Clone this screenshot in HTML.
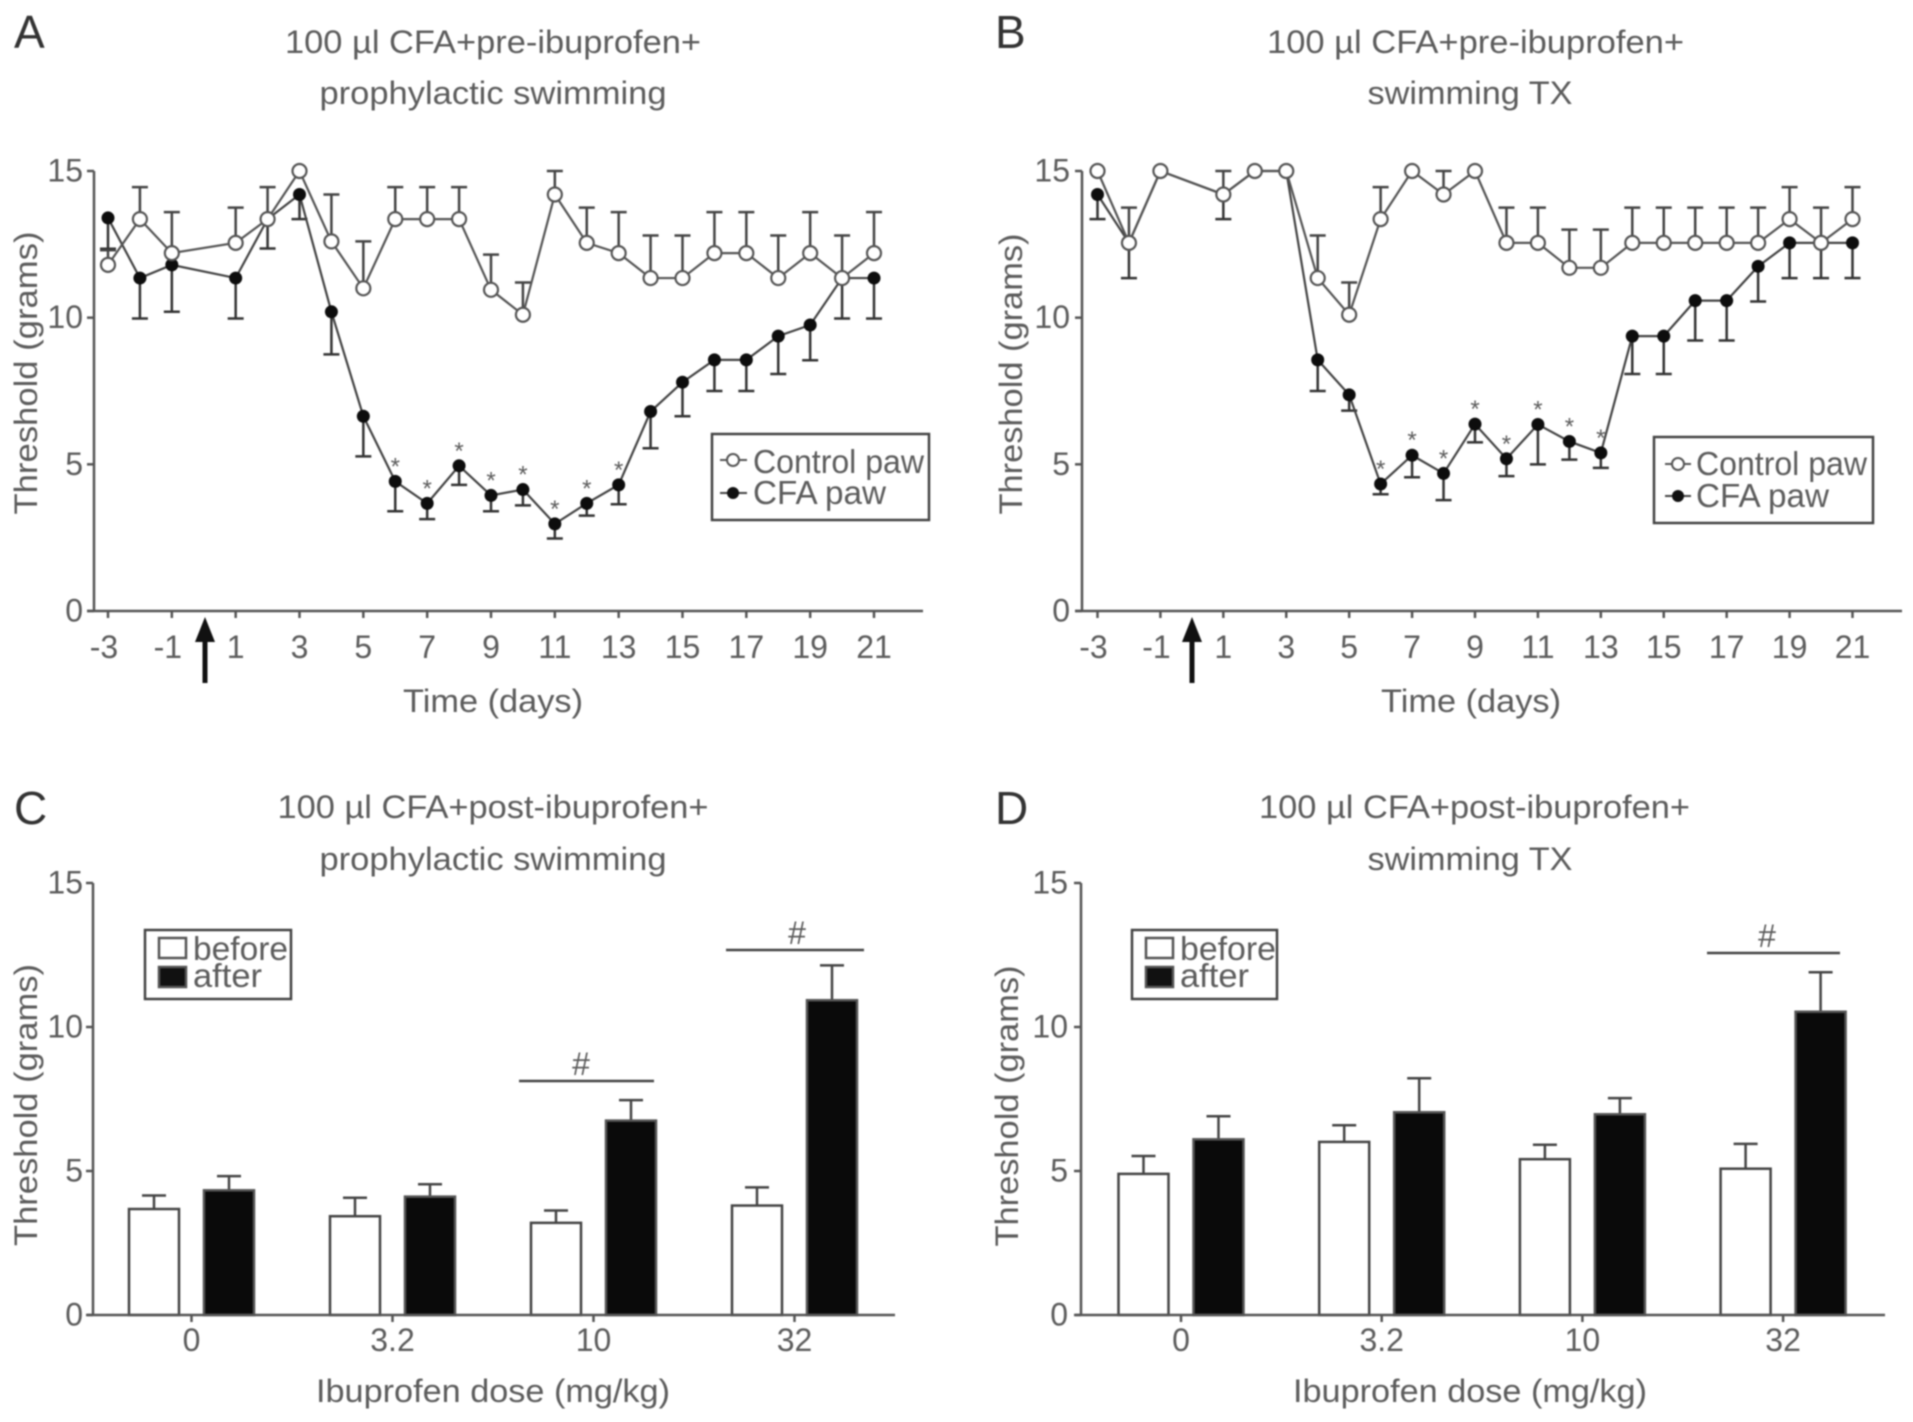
<!DOCTYPE html>
<html lang="en">
<head>
<meta charset="utf-8">
<title>Threshold charts</title>
<style>
html,body{margin:0;padding:0;background:#fff;}
#figure{display:block;width:1913px;height:1422px;filter:blur(0.8px);}
text{font-family:"Liberation Sans",sans-serif;fill:#5c5c5c;font-size:32px;}
.panel-letter{font-size:46px;fill:#333;}
.legend-text{font-size:33px;}
</style>
</head>
<body>
<svg id="figure" xmlns="http://www.w3.org/2000/svg" width="1913" height="1422" viewBox="0 0 1913 1422">
<rect width="1913" height="1422" fill="#fff"/>

<g id="panel-a">
  <text class="panel-letter" x="14" y="48">A</text>
  <text x="493" y="53" text-anchor="middle" textLength="416" lengthAdjust="spacingAndGlyphs">100 µl CFA+pre-ibuprofen+</text>
  <text x="493" y="104" text-anchor="middle" textLength="347" lengthAdjust="spacingAndGlyphs">prophylactic swimming</text>
  <text transform="translate(37,373) rotate(-90)" text-anchor="middle" textLength="283" lengthAdjust="spacingAndGlyphs">Threshold (grams)</text>
  <text x="493" y="712" text-anchor="middle" textLength="180" lengthAdjust="spacingAndGlyphs">Time (days)</text>
  <g id="plot-a"></g>
  <path d="M205 617 L215 642 L207.5 642 L207.5 683 L202.5 683 L202.5 642 L195 642 Z" fill="#111"/>
  <g>
    <rect x="712" y="434" width="217" height="86" fill="#fff" stroke="#444" stroke-width="2.5"/>
    <line x1="720" y1="460" x2="747" y2="460" stroke="#555" stroke-width="2"/>
    <circle cx="733" cy="460" r="6" fill="#fff" stroke="#555" stroke-width="2"/>
    <text class="legend-text" x="753" y="473" textLength="171" lengthAdjust="spacingAndGlyphs">Control paw</text>
    <line x1="720" y1="493" x2="747" y2="493" stroke="#444" stroke-width="2"/>
    <circle cx="733" cy="493" r="6" fill="#111"/>
    <text class="legend-text" x="753" y="504" textLength="133" lengthAdjust="spacingAndGlyphs">CFA paw</text>
  </g>
</g>

<g id="panel-b">
  <text class="panel-letter" x="995" y="48">B</text>
  <text x="1475.5" y="53" text-anchor="middle" textLength="417" lengthAdjust="spacingAndGlyphs">100 µl CFA+pre-ibuprofen+</text>
  <text x="1470" y="104" text-anchor="middle" textLength="205" lengthAdjust="spacingAndGlyphs">swimming TX</text>
  <text transform="translate(1022,374) rotate(-90)" text-anchor="middle" textLength="281" lengthAdjust="spacingAndGlyphs">Threshold (grams)</text>
  <text x="1471" y="712" text-anchor="middle" textLength="180" lengthAdjust="spacingAndGlyphs">Time (days)</text>
  <g id="plot-b"></g>
  <path d="M1192 617 L1202 642 L1194.5 642 L1194.5 683 L1189.5 683 L1189.5 642 L1182 642 Z" fill="#111"/>
  <g>
    <rect x="1659" y="437" width="219" height="86" fill="none" stroke="none"/>
    <rect x="1659" y="437" width="218" height="86" fill="#fff" stroke="none"/>
    <rect x="1654" y="437" width="219" height="86" fill="#fff" stroke="#444" stroke-width="2.5"/>
    <line x1="1665" y1="464" x2="1691" y2="464" stroke="#555" stroke-width="2"/>
    <circle cx="1678" cy="464" r="6" fill="#fff" stroke="#555" stroke-width="2"/>
    <text class="legend-text" x="1696" y="475" textLength="171" lengthAdjust="spacingAndGlyphs">Control paw</text>
    <line x1="1665" y1="496" x2="1691" y2="496" stroke="#444" stroke-width="2"/>
    <circle cx="1678" cy="496" r="6" fill="#111"/>
    <text class="legend-text" x="1696" y="507" textLength="133" lengthAdjust="spacingAndGlyphs">CFA paw</text>
  </g>
</g>

<g id="panel-c">
  <text class="panel-letter" x="14" y="824">C</text>
  <text x="493" y="818" text-anchor="middle" textLength="431" lengthAdjust="spacingAndGlyphs">100 µl CFA+post-ibuprofen+</text>
  <text x="493" y="870" text-anchor="middle" textLength="347" lengthAdjust="spacingAndGlyphs">prophylactic swimming</text>
  <text transform="translate(37,1105) rotate(-90)" text-anchor="middle" textLength="282" lengthAdjust="spacingAndGlyphs">Threshold (grams)</text>
  <text x="493" y="1402" text-anchor="middle" textLength="354" lengthAdjust="spacingAndGlyphs">Ibuprofen dose (mg/kg)</text>
  <g id="plot-c"></g>
  <g>
    <line x1="519" y1="1083" x2="654" y2="1083" stroke="#444" stroke-width="2.5" transform="translate(0,-2)"/>
    <text x="581" y="1075" text-anchor="middle" font-size="32">#</text>
  </g>
  <g>
    <line x1="726" y1="950" x2="864" y2="950" stroke="#444" stroke-width="2.5"/>
    <text x="797" y="944" text-anchor="middle">#</text>
  </g>
  <g>
    <rect x="145" y="930" width="146" height="69" fill="#fff" stroke="#444" stroke-width="2.5"/>
    <rect x="159" y="938" width="27" height="20" fill="#fff" stroke="#555" stroke-width="2.5"/>
    <text class="legend-text" x="193" y="960" textLength="95" lengthAdjust="spacingAndGlyphs">before</text>
    <rect x="159" y="967" width="27" height="20" fill="#111" stroke="#555" stroke-width="2.5"/>
    <text class="legend-text" x="193" y="987" textLength="69" lengthAdjust="spacingAndGlyphs">after</text>
  </g>
</g>

<g id="panel-d">
  <text class="panel-letter" x="995" y="824">D</text>
  <text x="1474.5" y="818" text-anchor="middle" textLength="431" lengthAdjust="spacingAndGlyphs">100 µl CFA+post-ibuprofen+</text>
  <text x="1470" y="870" text-anchor="middle" textLength="205" lengthAdjust="spacingAndGlyphs">swimming TX</text>
  <text transform="translate(1018,1106) rotate(-90)" text-anchor="middle" textLength="281" lengthAdjust="spacingAndGlyphs">Threshold (grams)</text>
  <text x="1470" y="1402" text-anchor="middle" textLength="354" lengthAdjust="spacingAndGlyphs">Ibuprofen dose (mg/kg)</text>
  <g id="plot-d"></g>
  <g>
    <line x1="1707" y1="953" x2="1840" y2="953" stroke="#444" stroke-width="2.5"/>
    <text x="1767" y="947" text-anchor="middle">#</text>
  </g>
  <g>
    <rect x="1134" y="930" width="145" height="69" fill="#fff" stroke="#444" stroke-width="2.5" transform="translate(-2,0)"/>
    <rect x="1146" y="938" width="27" height="20" fill="#fff" stroke="#555" stroke-width="2.5"/>
    <text class="legend-text" x="1180" y="960" textLength="96" lengthAdjust="spacingAndGlyphs">before</text>
    <rect x="1146" y="967" width="27" height="20" fill="#111" stroke="#555" stroke-width="2.5"/>
    <text class="legend-text" x="1180" y="987" textLength="69" lengthAdjust="spacingAndGlyphs">after</text>
  </g>
</g>
</svg>

<script>
// ---- shared categories and tick labels ----
const days = [-3,-2,-1,1,2,3,4,5,6,7,8,9,10,11,12,13,14,15,16,17,18,19,20,21];
const dayTickLabels = [-3,-1,1,3,5,7,9,11,13,15,17,19,21];
const starDays = [6,7,8,9,10,11,12,13];
const thresholdTicks = [0,5,10,15];
const doseLabels = ["0","3.2","10","32"];

// ---- panel A series ----
const aControl = [11.8,13.36,12.2,12.55,13.36,15,12.6,11,13.36,13.36,13.36,10.95,10.1,14.2,12.55,12.2,11.35,11.35,12.2,12.2,11.35,12.2,11.35,12.2];
const aControlErr = [0.5,1.09,1.4,1.2,1.09,0,1.6,1.6,1.09,1.09,1.09,1.2,1.1,0.8,1.2,1.4,1.45,1.45,1.4,1.4,1.45,1.4,1.45,1.4];
const aCfa = [13.4,11.35,11.8,11.35,13.36,14.2,10.2,6.64,4.42,3.67,4.95,3.94,4.14,2.97,3.67,4.3,6.8,7.8,8.56,8.56,9.37,9.75,11.35,11.35];
const aCfaErr = [1.05,1.38,1.6,1.38,1.0,0.84,1.45,1.37,1.02,0.54,0.65,0.54,0.54,0.5,0.42,0.66,1.25,1.16,1.06,1.06,1.29,1.2,1.38,1.38];

// ---- panel B series ----
const bControl = [15,12.55,15,14.2,15,15,11.35,10.1,13.36,15,14.2,15,12.55,12.55,11.7,11.7,12.55,12.55,12.55,12.55,12.55,13.36,12.55,13.36];
const bControlErr = [0,1.2,0,0.8,0,0,1.45,1.1,1.09,0,0.8,0,1.2,1.2,1.3,1.3,1.2,1.2,1.2,1.2,1.2,1.09,1.2,1.09];
const bCfa = [14.2,12.55,15,14.2,15,15,8.56,7.37,4.33,5.31,4.69,6.37,5.19,6.36,5.78,5.39,9.37,9.37,10.58,10.58,11.75,12.55,12.55,12.55];
const bCfaErr = [0.84,1.2,0,0.84,0,0,1.06,0.54,0.35,0.75,0.91,0.62,0.59,1.36,0.62,0.51,1.29,1.29,1.36,1.36,1.2,1.2,1.2,1.2];

// ---- panel C series ----
const cBefore = [3.68,3.43,3.2,3.8];
const cBeforeErr = [0.47,0.64,0.43,0.63];
const cAfter = [4.33,4.11,6.75,10.93];
const cAfterErr = [0.49,0.43,0.71,1.21];

// ---- panel D series ----
const dBefore = [4.9,6.01,5.41,5.08];
const dBeforeErr = [0.62,0.58,0.5,0.86];
const dAfter = [6.1,7.04,6.97,10.53];
const dAfterErr = [0.8,1.18,0.56,1.37];

const SVG_NS = "http://www.w3.org/2000/svg";
function mk(parent, tag, attrs, txt) {
  const el = document.createElementNS(SVG_NS, tag);
  for (const k in attrs) el.setAttribute(k, attrs[k]);
  if (txt !== undefined) el.textContent = txt;
  parent.appendChild(el);
  return el;
}
const AXIS = "#555";

function drawYAxis(g, yScale, yTop, yBase, axisX, labelX, key) {
  const spine = mk(g, "line", {x1:axisX, y1:yTop, x2:axisX, y2:yBase, stroke:AXIS, "stroke-width":2.5});
  
  
  thresholdTicks.forEach(function (t) {
    const tick = mk(g, "line", {x1:axisX-7, y1:yScale(t), x2:axisX, y2:yScale(t), stroke:AXIS, "stroke-width":2.5});
    
    
    const lab = mk(g, "text", {x:labelX, y:yScale(t)+10.5, "text-anchor":"end"}, String(t));
    
    
  });
}

function drawLinePanel(g, key, geo, control, controlErr, cfa, cfaErr) {
  const xScale = function (d) { return geo.x0 + (d - days[0]) / (days[days.length-1] - days[0]) * (geo.x1 - geo.x0); };
  const yScale = function (v) { return geo.yBase - v / 15 * (geo.yBase - geo.yTop); };

  drawYAxis(g, yScale, geo.yTop, geo.yBase, geo.axisX, geo.labelX, key);
  const xLine = mk(g, "line", {x1:geo.axisX-7, y1:geo.yBase, x2:geo.axisEnd, y2:geo.yBase, stroke:AXIS, "stroke-width":2.5});
  
  
  dayTickLabels.forEach(function (d) {
    const tick = mk(g, "line", {x1:xScale(d), y1:geo.yBase, x2:xScale(d), y2:geo.yBase+7, stroke:AXIS, "stroke-width":2.5});
    
    
    const lab = mk(g, "text", {x:xScale(d) - (d < 0 ? 4 : 0), y:658, "text-anchor":"middle"}, String(d));
    
    
  });

  function errBars(vals, errs, dir, colour, nm) {
    vals.forEach(function (v, i) {
      if (!errs[i]) return;
      const xx = xScale(days[i]);
      const yy = yScale(v + dir * errs[i]);
      const stem = mk(g, "line", {x1:xx, y1:yScale(v), x2:xx, y2:yy, stroke:colour, "stroke-width":2.5});
      
      
      const cap = mk(g, "line", {x1:xx-8, y1:yy, x2:xx+8, y2:yy, stroke:colour, "stroke-width":2.5});
      
      
    });
  }
  errBars(cfa, cfaErr, -1, "#333", "cfa");
  errBars(control, controlErr, 1, "#444", "control");

  function pathOf(vals) {
    return vals.map(function (v, i) { return xScale(days[i]) + "," + yScale(v); }).join(" ");
  }
  const cfaLine = mk(g, "polyline", {points:pathOf(cfa), fill:"none", stroke:"#444", "stroke-width":2.2});
  
  
  const controlLine = mk(g, "polyline", {points:pathOf(control), fill:"none", stroke:"#555", "stroke-width":2.2});
  
  

  cfa.forEach(function (v, i) {
    const dot = mk(g, "circle", {cx:xScale(days[i]), cy:yScale(v), r:6.5, fill:"#0d0d0d"});
    
    
    if (starDays.indexOf(days[i]) >= 0) {
      const star = mk(g, "text", {x:xScale(days[i]), y:yScale(v) - 7, "text-anchor":"middle", style:"font-size:24px"}, "*");
      
      
    }
  });
  control.forEach(function (v, i) {
    const dot = mk(g, "circle", {cx:xScale(days[i]), cy:yScale(v), r:7, fill:"#fff", stroke:"#555", "stroke-width":2.2});
    
    
  });
}

function drawBarPanel(g, key, geo, before, beforeErr, after, afterErr) {
  const xScale = function (i) { return geo.x0 + i * geo.step; };
  const yScale = function (v) { return geo.yBase - v / 15 * (geo.yBase - geo.yTop); };
  const barW = 50;

  drawYAxis(g, yScale, geo.yTop, geo.yBase, geo.axisX, geo.labelX, key);

  doseLabels.forEach(function (lab, i) {
    const tick = mk(g, "line", {x1:xScale(i), y1:geo.yBase, x2:xScale(i), y2:geo.yBase+7, stroke:AXIS, "stroke-width":2.5});
    
    
    const t = mk(g, "text", {x:xScale(i), y:1351, "text-anchor":"middle"}, lab);
    
    

    [[before, beforeErr, -geo.offset, "#fff", "#444", "before"], [after, afterErr, geo.offset, "#0a0a0a", "#555", "after"]].forEach(function (s) {
      const cx = xScale(i) + s[2];
      const v = s[0][i];
      const topY = yScale(v + s[1][i]);
      const stem = mk(g, "line", {x1:cx, y1:yScale(v), x2:cx, y2:topY, stroke:"#444", "stroke-width":2.5});
      
      
      const cap = mk(g, "line", {x1:cx-12, y1:topY, x2:cx+12, y2:topY, stroke:"#444", "stroke-width":2.5});
      
      
      const bar = mk(g, "rect", {x:cx-barW/2, y:yScale(v), width:barW, height:geo.yBase-yScale(v), fill:s[3], stroke:s[4], "stroke-width":2.5});
      
      
    });
  });

  const xLine = mk(g, "line", {x1:geo.axisX-6, y1:geo.yBase, x2:geo.axisEnd, y2:geo.yBase, stroke:AXIS, "stroke-width":2.5});
  
  
}

drawLinePanel(document.getElementById("plot-a"), "a",
  {x0:108, x1:874, yTop:171, yBase:611, axisX:94, axisEnd:923, labelX:83},
  aControl, aControlErr, aCfa, aCfaErr);
drawLinePanel(document.getElementById("plot-b"), "b",
  {x0:1097.5, x1:1852.5, yTop:171, yBase:611, axisX:1082, axisEnd:1902, labelX:1070},
  bControl, bControlErr, bCfa, bCfaErr);
drawBarPanel(document.getElementById("plot-c"), "c",
  {x0:191.5, step:201, offset:37.5, yTop:883, yBase:1315, axisX:93, axisEnd:895, labelX:83},
  cBefore, cBeforeErr, cAfter, cAfterErr);
drawBarPanel(document.getElementById("plot-d"), "d",
  {x0:1181, step:200.7, offset:37.5, yTop:883, yBase:1315, axisX:1081, axisEnd:1885, labelX:1068},
  dBefore, dBeforeErr, dAfter, dAfterErr);
</script>
</body>
</html>
